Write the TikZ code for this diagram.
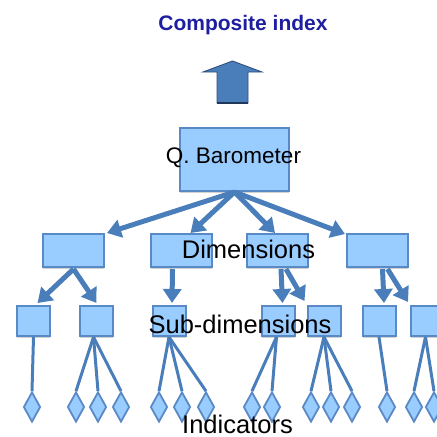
\documentclass[tikz,border=0pt]{standalone}
\usepackage{fontspec}
\setmainfont{Liberation Sans}
\usetikzlibrary{arrows.meta,shapes.geometric,calc,shadows}
\definecolor{boxfill}{HTML}{99CCFF}
\definecolor{boxedge}{HTML}{5A8AC6}
\definecolor{link}{HTML}{4A7EBB}
\definecolor{titleblue}{HTML}{1E1EA0}
\definecolor{arrowedge}{HTML}{2F4F7F}
\begin{document}
\begin{tikzpicture}[x=1pt,y=-1pt,
  box/.style={rectangle, draw=boxedge, fill=boxfill, line width=2pt, inner sep=0pt,
    drop shadow={shadow xshift=0pt, shadow yshift=-1.6pt, opacity=0.3, fill=black!60}},
  dimbox/.style={box, minimum width=61pt, minimum height=33pt},
  subbox/.style={box, minimum width=33pt, minimum height=30pt},
  indic/.style={diamond, draw=boxedge, fill=boxfill, line width=1.8pt, inner sep=0pt,
    minimum width=17pt, minimum height=30pt},
  bigarrow/.style={draw=link, line width=5pt, -{Triangle[length=14pt,width=18pt]}},
  twig/.style={draw=link, line width=3pt},
  label/.style={anchor=base, inner sep=0pt, text=black}]
\useasboundingbox (0,0) rectangle (437,437);
\clip (0,0) rectangle (437,437);

% top box
\node[box, minimum width=109pt, minimum height=63pt] (q) at (234.5,159.5) {};

% dimensions
\node[dimbox] (d1) at (73.5,250.5) {};
\node[dimbox] (d2) at (181.5,250.5) {};
\node[dimbox] (d3) at (277,250.5) {};
\node[dimbox] (d4) at (377.5,250.5) {};

% sub-dimensions
\node[subbox] (s1) at (33.5,321) {};
\node[subbox] (s2) at (96.5,321) {};
\node[subbox] (s3) at (169,321) {};
\node[subbox] (s4) at (278.5,321) {};
\node[subbox] (s5) at (324,321) {};
\node[subbox] (s6) at (379,321) {};
\node[subbox] (s7) at (427.5,321) {};

% indicators
\foreach \n/\x in {1/32, 2/76, 3/98, 4/121, 5/159, 6/182, 7/206, 8/252,
                   9/272, 10/311, 11/331, 12/352, 13/387, 14/414, 15/434}
  \node[indic] (i\n) at (\x,407) {};

% barometer to dimensions
\draw[bigarrow] (q.south) -- ($(d1.north east)+(2,0)$);
\draw[bigarrow] (q.south) -- ($(d2.north)+(9,0)$);
\draw[bigarrow] (q.south) -- ($(d3.north)+(-2,0)$);
\draw[bigarrow] (q.south) -- ($(d4.north west)+(-1,1)$);

% dimensions to sub-dimensions
\draw[bigarrow] ($(d1.south)+(0,1)$) -- ($(s1.north)+(4,-2)$);
\draw[bigarrow] ($(d1.south)+(0,1)$) -- ($(s2.north)+(0,-2)$);
\draw[bigarrow] ($(d2.south)+(-9,1)$) -- ($(s3.north)+(3,-2)$);
\draw[bigarrow] ($(d3.south)+(4,1)$) -- ($(s4.north)+(4,-2)$);
\draw[bigarrow] ($(d3.south)+(9,1)$) -- ($(s5.north west)+(-2,-4)$);
\draw[bigarrow] ($(d4.south)+(5,1)$) -- ($(s6.north)+(5,-2)$);
\draw[bigarrow] ($(d4.south)+(10,1)$) -- ($(s7.north west)+(-2,-3)$);

% sub-dimensions to indicators
\draw[twig] (s1.south) -- (i1.north);
\foreach \k in {2,3,4} \draw[twig] ($(s2.south)+(-3,0)$) -- (i\k.north);
\foreach \k in {5,6,7} \draw[twig] (s3.south) -- (i\k.north);
\foreach \k in {8,9} \draw[twig] ($(s4.south)+(-2,0)$) -- (i\k.north);
\foreach \k in {10,11,12} \draw[twig] (s5.south) -- (i\k.north);
\draw[twig] (s6.south) -- (i13.north);
\foreach \k in {14,15} \draw[twig] ($(s7.south)+(-2,0)$) -- (i\k.north);

% arrow pointing to the composite index
\draw[fill=link, draw=arrowedge, line width=0.9pt, line join=miter]
  (217,103) -- (217,72) -- (203,72) -- (232.5,61) -- (262,72) -- (248,72) -- (248,103) -- cycle;
\draw[draw=arrowedge!70!black, line width=2pt] (217,103) -- (248,103);

% texts
\node[label, text=titleblue, font=\bfseries\fontsize{21}{25}\selectfont] (title) at (243,30) {Composite index};
\node[label, font=\fontsize{22.5}{27}\selectfont] (qt) at (233.5,163) {Q. Barometer};
\node[label, font=\fontsize{25.5}{30}\selectfont] (dt) at (248.5,258) {Dimensions};
\node[label, font=\fontsize{25.5}{30}\selectfont] (st) at (240,333) {Sub-dimensions};
\node[label, font=\fontsize{25.5}{30}\selectfont] (it) at (237.5,433) {Indicators};
\end{tikzpicture}
\end{document}
